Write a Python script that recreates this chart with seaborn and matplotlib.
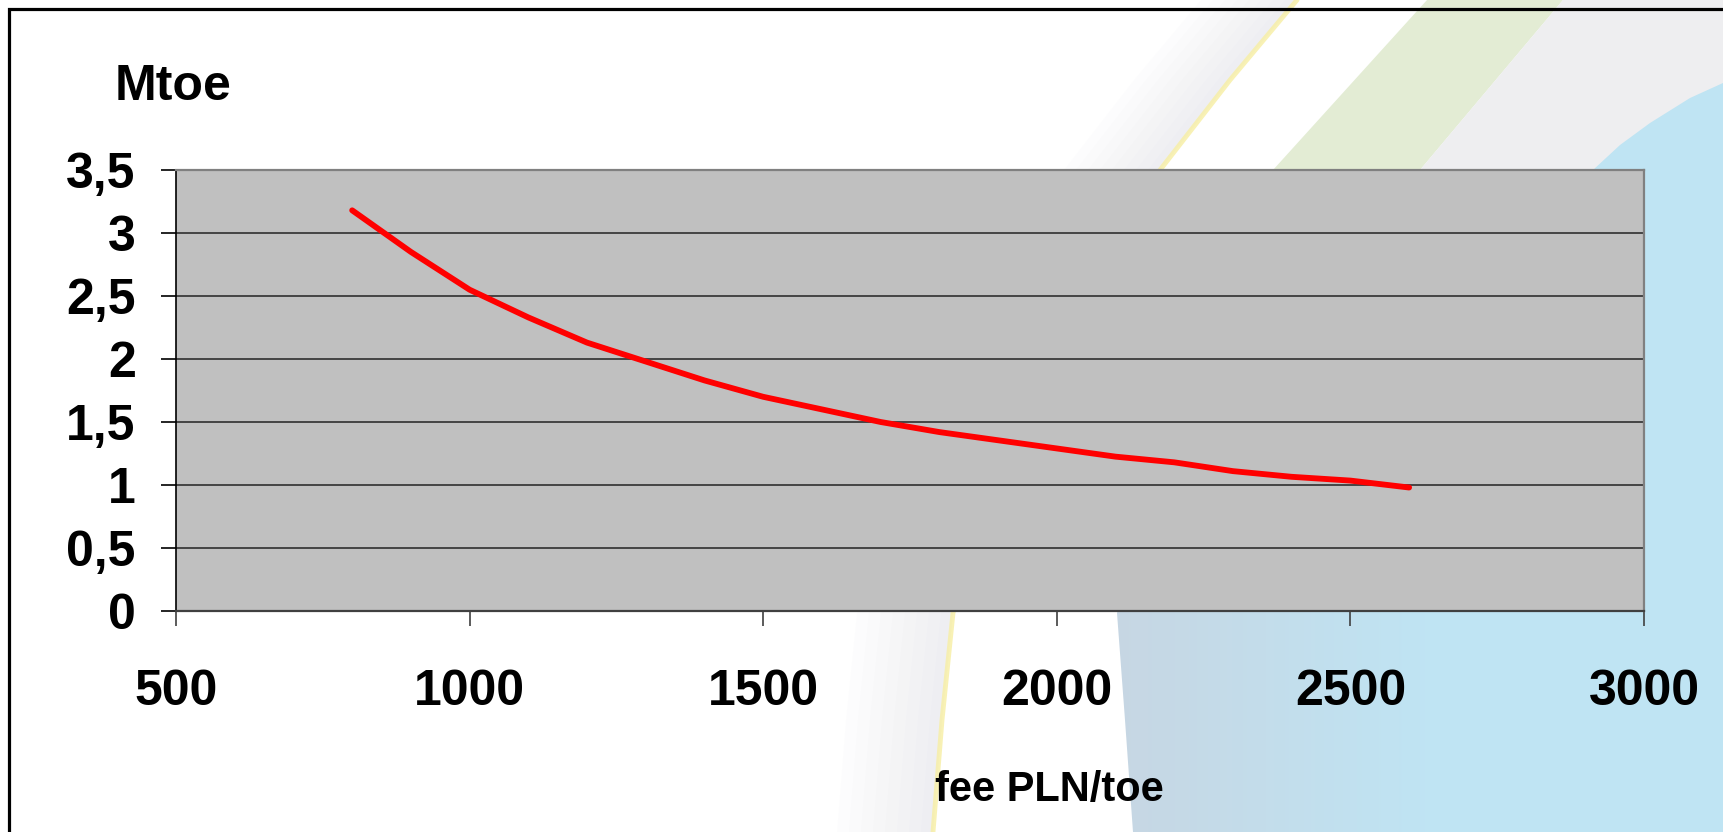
import numpy as np
import matplotlib
matplotlib.use('Agg')
import matplotlib.pyplot as plt
from matplotlib.patches import Polygon
import seaborn as sns

# values
fee = [800, 900, 1000, 1100, 1200, 1300, 1400, 1500, 1600, 1700,
       1800, 1900, 2000, 2100, 2200, 2300, 2400, 2500, 2600]
mtoe = [3.18, 2.85, 2.55, 2.33, 2.13, 1.98, 1.83, 1.70, 1.60, 1.50,
        1.42, 1.355, 1.29, 1.225, 1.18, 1.11, 1.065, 1.035, 0.98]
x_ticks = [500, 1000, 1500, 2000, 2500, 3000]
y_ticks = [0, 0.5, 1, 1.5, 2, 2.5, 3, 3.5]
y_tick_labels = ['0', '0,5', '1', '1,5', '2', '2,5', '3', '3,5']

W, H = 1723, 832

sns.set_style('white')
plt.rcParams['font.family'] = ['Liberation Sans', 'DejaVu Sans']
plt.rcParams['font.weight'] = 'bold'
plt.rcParams['text.color'] = 'black'
plt.rcParams['xtick.labelcolor'] = 'black'
plt.rcParams['ytick.labelcolor'] = 'black'

fig = plt.figure(figsize=(W / 100, H / 100), dpi=100)
fig.patch.set_facecolor('white')

# slide background (pixel coordinates, y pointing down)
bg = fig.add_axes([0, 0, 1, 1], zorder=0)
bg.axis('off')

yellow = [(1297, 0), (1230, 80), (1160, 170), (1080, 300), (1010, 440),
          (968, 560), (953, 613), (942, 720), (933, 832)]
yx = np.array([p[0] for p in yellow], dtype=float)
yy = np.array([p[1] for p in yellow], dtype=float)

# soft grey shading to the left of the yellow arc
for k in range(8):
    shift = 12 * (k + 1)
    pts = list(zip(yx, yy)) + list(zip(yx[::-1] - shift, yy[::-1]))
    bg.add_patch(Polygon(pts, closed=True, facecolor='#E0E0E8', edgecolor='none', alpha=0.07))

# green band and grey area top right
bg.add_patch(Polygon([(1427, 0), (1563, 0), (1420, 170), (1300, 330), (1150, 330), (1273, 170)],
                     closed=True, facecolor='#E3ECD4', edgecolor='none'))
bg.add_patch(Polygon([(1563, 0), (W, 0), (W, 400), (1300, 400), (1420, 170)],
                     closed=True, facecolor='#EEEEF0', edgecolor='none'))

# light blue shape with a gradient
blue_pts = [(W, 83), (1690, 98), (1650, 123), (1620, 145), (1593, 170), (1450, 300),
            (1300, 420), (1180, 520), (1125, 590), (1117, 613), (1125, 720), (1133, H), (W, H)]
blue_patch = Polygon(blue_pts, closed=True, facecolor='none', edgecolor='none')
bg.add_patch(blue_patch)
gx = np.linspace(1100, W, 300)
t = np.clip((gx - 1110) / 320, 0, 1)[:, None]
c0 = np.array([0.78, 0.84, 0.89])
c1 = np.array([0.75, 0.895, 0.955])
grad = (c0 * (1 - t) + c1 * t)[None, :, :]
im = bg.imshow(grad, extent=[1100, W, H, 0], aspect='auto', zorder=1)
im.set_clip_path(blue_patch)

bg.plot(yx, yy, color='#F7EFA8', lw=3.5, alpha=0.85, zorder=2)

# slide frame
bg.plot([9, 9, W], [H, 9, 9], color='black', lw=2.3, zorder=10, solid_joinstyle='miter')
bg.set_xlim(0, W)
bg.set_ylim(H, 0)

# chart
ax = fig.add_axes([176 / W, 1 - 611 / H, (1644 - 176) / W, (611 - 170) / H], zorder=2)
ax.set_facecolor('#C0C0C0')
sns.lineplot(x=fee, y=mtoe, ax=ax, color='#FF0000', linewidth=4.2)
ax.set_xlim(500, 3000)
ax.set_ylim(0, 3.5)
ax.set_xticks(x_ticks, labels=[str(v) for v in x_ticks])
ax.set_yticks(y_ticks, labels=y_tick_labels)
ax.tick_params(axis='both', labelsize=36, length=11, width=1.2, direction='out',
               bottom=True, left=True, labelcolor='black')
ax.tick_params(axis='x', pad=31, color='#404040')
ax.tick_params(axis='y', pad=18, color='black')
for lab in ax.get_xticklabels() + ax.get_yticklabels():
    lab.set_fontweight('bold')

ax.yaxis.grid(True, color='#3a3a3a', linewidth=1.3)
ax.xaxis.grid(False)
ax.set_axisbelow(True)

ax.spines['left'].set_color('black')
ax.spines['left'].set_linewidth(1.2)
ax.spines['bottom'].set_color('#404040')
ax.spines['bottom'].set_linewidth(1.6)
for s in ['top', 'right']:
    ax.spines[s].set_color('#808080')
    ax.spines[s].set_linewidth(1.6)

fig.text(115 / W, 1 - 100 / H, 'Mtoe', fontsize=36, fontweight='bold', color='black',
         ha='left', va='baseline')
fig.text(1049 / W, 1 - 801 / H, 'fee PLN/toe', fontsize=30, fontweight='bold', color='black',
         ha='center', va='baseline')

fig.savefig('out.png', dpi=100)
plt.close(fig)
